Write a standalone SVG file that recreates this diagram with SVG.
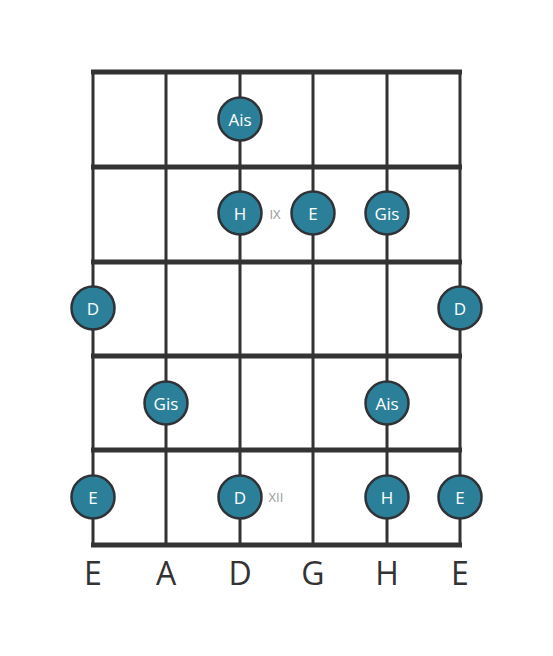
<svg xmlns="http://www.w3.org/2000/svg" width="553" height="656" viewBox="0 0 553 656">
<style>
.str{stroke:#333;stroke-width:3}
.fret{stroke:#333;stroke-width:5}
.dot circle{fill:#2b7f99;stroke:#2f3337;stroke-width:2.5}
.dot text{fill:#fff;font-family:"Open Sans",sans-serif;font-size:17px;text-anchor:middle;dominant-baseline:central}
.pos{fill:#999;font-family:"Open Sans",sans-serif;font-size:13px;text-anchor:middle;dominant-baseline:central}
.name{fill:#333;font-family:"Open Sans",sans-serif;font-size:32px;text-anchor:middle}
</style>
<rect width="553" height="656" fill="#fff"/>
<g id="grid">
<line class="str" x1="93" y1="72" x2="93" y2="545"/>
<line class="str" x1="166" y1="72" x2="166" y2="545"/>
<line class="str" x1="240" y1="72" x2="240" y2="545"/>
<line class="str" x1="313" y1="72" x2="313" y2="545"/>
<line class="str" x1="387" y1="72" x2="387" y2="545"/>
<line class="str" x1="460" y1="72" x2="460" y2="545"/>
<line class="fret" x1="91" y1="72" x2="462" y2="72"/>
<line class="fret" x1="91" y1="167" x2="462" y2="167"/>
<line class="fret" x1="91" y1="262" x2="462" y2="262"/>
<line class="fret" x1="91" y1="356" x2="462" y2="356"/>
<line class="fret" x1="91" y1="450" x2="462" y2="450"/>
<line class="fret" x1="91" y1="545" x2="462" y2="545"/>
</g>
<text class="pos" x="275" y="214">IX</text>
<text class="pos" x="276" y="497">XII</text>
<g id="n1" class="dot"><circle cx="240" cy="119" r="21.5"/><text x="240" y="119">Ais</text></g>
<g id="n2" class="dot"><circle cx="240" cy="213" r="21.5"/><text x="240" y="213">H</text></g>
<g id="n3" class="dot"><circle cx="313" cy="213" r="21.5"/><text x="313" y="213">E</text></g>
<g id="n4" class="dot"><circle cx="387" cy="213" r="21.5"/><text x="387" y="213">Gis</text></g>
<g id="n5" class="dot"><circle cx="93" cy="308" r="21.5"/><text x="93" y="308">D</text></g>
<g id="n6" class="dot"><circle cx="460" cy="308" r="21.5"/><text x="460" y="308">D</text></g>
<g id="n7" class="dot"><circle cx="166" cy="403" r="21.5"/><text x="166" y="403">Gis</text></g>
<g id="n8" class="dot"><circle cx="387" cy="403" r="21.5"/><text x="387" y="403">Ais</text></g>
<g id="n9" class="dot"><circle cx="93" cy="497" r="21.5"/><text x="93" y="497">E</text></g>
<g id="n10" class="dot"><circle cx="240" cy="497" r="21.5"/><text x="240" y="497">D</text></g>
<g id="n11" class="dot"><circle cx="387" cy="497" r="21.5"/><text x="387" y="497">H</text></g>
<g id="n12" class="dot"><circle cx="460" cy="497" r="21.5"/><text x="460" y="497">E</text></g>
<g id="names">
<text class="name" x="93" y="585">E</text>
<text class="name" x="166" y="585">A</text>
<text class="name" x="240" y="585">D</text>
<text class="name" x="313" y="585">G</text>
<text class="name" x="387" y="585">H</text>
<text class="name" x="460" y="585">E</text>
</g>
</svg>
